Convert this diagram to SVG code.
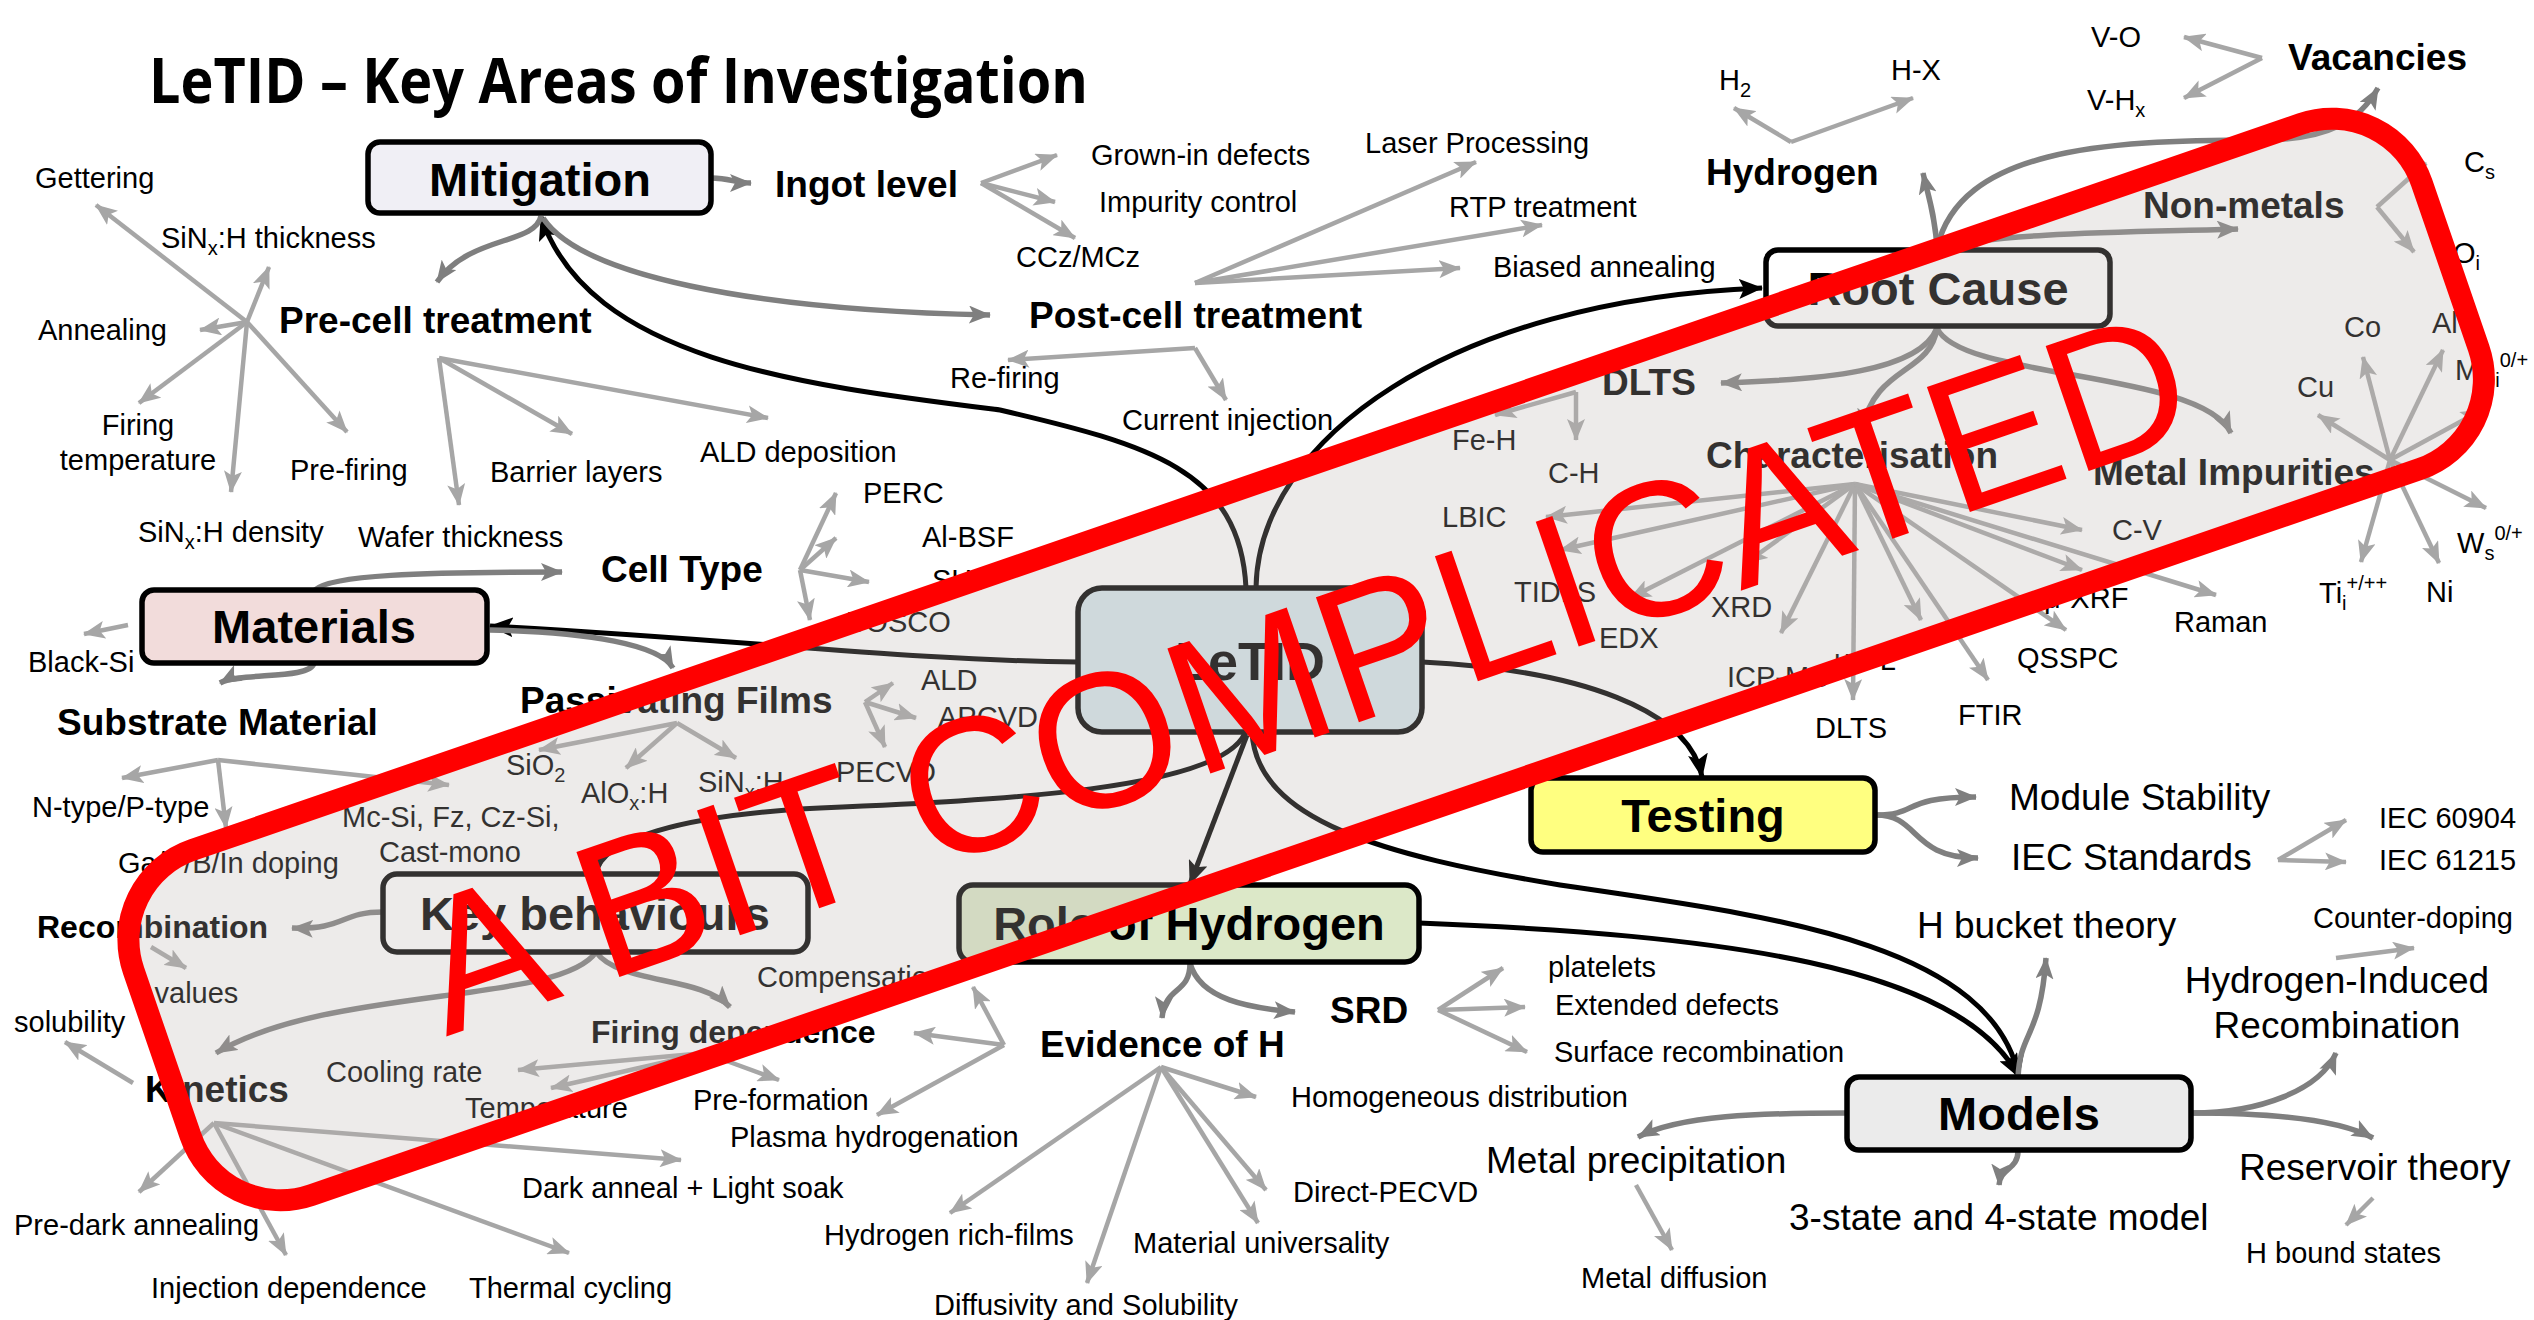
<svg xmlns="http://www.w3.org/2000/svg" width="2534" height="1320" viewBox="0 0 2534 1320">
<defs>
<marker id="mL" markerUnits="userSpaceOnUse" viewBox="0 0 22 18" markerWidth="22" markerHeight="18" refX="21" refY="9" orient="auto"><path d="M0,0 L22,9 L0,18 L5,9 z" fill="#a6a6a6"/></marker>
<marker id="mD" markerUnits="userSpaceOnUse" viewBox="0 0 22 18" markerWidth="22" markerHeight="18" refX="21" refY="9" orient="auto"><path d="M0,0 L22,9 L0,18 L5,9 z" fill="#7f7f7f"/></marker>
<marker id="mB" markerUnits="userSpaceOnUse" viewBox="0 0 24 20" markerWidth="24" markerHeight="20" refX="23" refY="10" orient="auto"><path d="M0,0 L24,10 L0,20 L5,10 z" fill="#000"/></marker>
<style>
.lf{stroke:#a6a6a6;stroke-width:4.5;fill:none;marker-end:url(#mL)}
.br{stroke:#7f7f7f;stroke-width:5.5;fill:none;marker-end:url(#mD)}
.bk{stroke:#000;stroke-width:5;fill:none;marker-end:url(#mB)}
text{font-family:"Liberation Sans",Arial,sans-serif;font-size:29px;fill:#000}
.h{font-weight:bold;font-size:37px}
.hs{font-size:32px}
.n{font-weight:bold;font-size:47px;text-anchor:middle}
.L{font-size:37px}
.c{text-anchor:middle}
.box{stroke:#000;stroke-width:5.5}
.s{font-size:20px}
</style>
</defs>
<rect width="2534" height="1320" fill="#fff"/>

<text x="149" y="103" style="font-family:'Open Sans','Noto Sans',sans-serif;font-weight:700;font-size:62px" textLength="939" lengthAdjust="spacingAndGlyphs">LeTID – Key Areas of Investigation</text>

<!-- connectors -->
<g id="connectors">
 <g class="bk">
  <path d="M1246,588 C1240,470 1150,445 1000,410 C800,385 590,360 541,217"/>
  <path d="M1256,588 C1258,440 1450,300 1762,288"/>
  <path d="M1078,662 C900,660 750,640 490,626"/>
  <path d="M1245,733 C1220,790 1000,800 820,808 C680,815 600,840 596,874"/>
  <path d="M1247,735 L1190,884"/>
  <path d="M1422,662 C1580,670 1690,710 1702,777"/>
  <path d="M1252,733 C1258,820 1380,855 1560,885 C1760,915 1990,940 2019,1077"/>
  <path d="M1419,923 C1720,935 1960,965 2019,1077"/>
 </g>
 <g class="br">
  <path d="M712,178 C730,178 735,183 751,183"/>
  <path d="M541,216 C535,245 470,235 437,282"/>
  <path d="M543,218 C580,275 750,310 990,315"/>
  <path d="M1937,248 C1935,215 1928,195 1923,173"/>
  <path d="M1937,248 C1960,150 2100,140 2260,140 C2330,140 2360,120 2378,88"/>
  <path d="M1940,248 C2000,232 2150,232 2238,229"/>
  <path d="M1937,328 C1920,372 1820,380 1721,383"/>
  <path d="M1937,328 C1930,375 1875,365 1862,430"/>
  <path d="M1937,328 C1960,380 2200,370 2231,433"/>
  <path d="M315,590 C330,575 420,572 562,572"/>
  <path d="M490,630 C590,632 660,645 673,668"/>
  <path d="M314,663 C310,680 240,672 220,683"/>
  <path d="M383,912 C340,912 345,930 292,928"/>
  <path d="M596,952 C560,1005 330,985 216,1053"/>
  <path d="M596,952 C620,985 700,975 730,1007"/>
  <path d="M1190,963 C1190,995 1165,985 1162,1018"/>
  <path d="M1190,963 C1200,1000 1250,1008 1295,1012"/>
  <path d="M1846,1113 C1760,1113 1680,1115 1638,1137"/>
  <path d="M2018,1151 C2018,1170 2000,1168 1999,1185"/>
  <path d="M2018,1078 C2020,1030 2040,1040 2046,958"/>
  <path d="M2192,1113 C2260,1113 2320,1090 2336,1053"/>
  <path d="M2192,1113 C2270,1113 2340,1120 2373,1138"/>
  <path d="M1876,815 C1920,815 1900,797 1976,797"/>
  <path d="M1876,815 C1920,815 1910,858 1978,858"/>
 </g>
 <g class="lf">
  <!-- pre-cell treatment, left star -->
  <path d="M247,322 L96,205"/><path d="M247,322 L269,267"/><path d="M247,322 L200,330"/>
  <path d="M247,322 L139,403"/><path d="M247,322 L231,492"/><path d="M247,322 L347,432"/>
  <!-- pre-cell treatment, right star -->
  <path d="M439,358 L459,505"/><path d="M439,358 L572,434"/><path d="M439,358 L768,418"/>
  <!-- ingot level -->
  <path d="M981,183 L1057,155"/><path d="M981,183 L1055,202"/><path d="M981,183 L1075,238"/>
  <!-- post-cell treatment -->
  <path d="M1195,283 L1476,162"/><path d="M1195,283 L1542,225"/><path d="M1195,283 L1460,268"/>
  <path d="M1195,348 L1008,360"/><path d="M1195,348 L1226,400"/>
  <!-- hydrogen, vacancies, non-metals -->
  <path d="M1791,142 L1734,108"/><path d="M1791,142 L1913,98"/>
  <path d="M2262,58 L2184,37"/><path d="M2262,58 L2184,98"/>
  <path d="M2377,207 L2426,163"/><path d="M2377,207 L2414,252"/>
  <!-- metal impurities -->
  <path d="M2390,460 L2363,357"/><path d="M2390,460 L2318,415"/><path d="M2390,460 L2443,350"/>
  <path d="M2390,460 L2482,410"/><path d="M2390,460 L2361,562"/><path d="M2390,460 L2439,563"/>
  <path d="M2390,460 L2486,508"/>
  <!-- DLTS -->
  <path d="M1576,392 L1576,440"/><path d="M1576,392 L1495,415"/>
  <!-- characterisation -->
  <path d="M1855,484 L1546,517"/><path d="M1855,484 L1560,550"/><path d="M1855,484 L1630,598"/>
  <path d="M1855,484 L1746,563"/><path d="M1855,484 L1781,633"/><path d="M1855,484 L1853,700"/>
  <path d="M1855,484 L1921,620"/><path d="M1855,484 L1988,680"/><path d="M1855,484 L2066,630"/>
  <path d="M1855,484 L2082,570"/><path d="M1855,484 L2216,595"/><path d="M1855,484 L2082,530"/>
  <!-- IEC standards -->
  <path d="M2278,860 L2346,820"/><path d="M2278,860 L2346,862"/>
  <!-- materials -->
  <path d="M128,625 L84,634"/>
  <path d="M218,760 L122,778"/><path d="M218,760 L226,828"/><path d="M218,760 L449,785"/>
  <path d="M800,570 L836,493"/><path d="M800,570 L836,538"/><path d="M800,570 L869,582"/><path d="M800,570 L810,620"/>
  <path d="M677,723 L539,750"/><path d="M677,723 L626,768"/><path d="M677,723 L736,758"/>
  <path d="M865,702 L893,683"/><path d="M865,702 L916,718"/><path d="M865,702 L885,747"/>
  <!-- key behaviours -->
  <path d="M151,947 L186,968"/>
  <path d="M133,1083 L65,1042"/>
  <path d="M214,1123 L139,1192"/><path d="M214,1123 L286,1255"/><path d="M214,1123 L569,1253"/><path d="M214,1123 L681,1160"/>
  <path d="M705,1053 L518,1070"/><path d="M705,1053 L551,1088"/><path d="M705,1053 L779,1080"/>
  <path d="M1004,1045 L973,987"/><path d="M1004,1045 L914,1033"/><path d="M1004,1045 L877,1115"/>
  <!-- role of hydrogen -->
  <path d="M1161,1067 L1256,1097"/><path d="M1161,1067 L950,1213"/><path d="M1161,1067 L1087,1283"/>
  <path d="M1161,1067 L1258,1223"/><path d="M1161,1067 L1266,1190"/>
  <path d="M1438,1010 L1503,968"/><path d="M1438,1010 L1525,1007"/><path d="M1438,1010 L1527,1052"/>
  <!-- models -->
  <path d="M1636,1185 L1672,1250"/>
  <path d="M2336,958 L2414,948"/>
  <path d="M2373,1198 L2346,1225"/>
 </g>
</g>

<!-- nodes -->
<g id="node-mitigation">
 <rect class="box" x="368" y="142" width="343" height="71" rx="12" fill="#f0eff5"/>
 <text class="n" x="540" y="196">Mitigation</text>
</g>
<g id="node-root-cause">
 <rect class="box" x="1766" y="250" width="344" height="76" rx="12" fill="#fff"/>
 <text class="n" x="1938" y="305">Root Cause</text>
</g>
<g id="node-letid">
 <rect class="box" x="1078" y="588" width="344" height="144" rx="24" fill="#d6e6ec"/>
 <text class="n" x="1250" y="680" style="font-size:54px">LeTID</text>
</g>
<g id="node-materials">
 <rect class="box" x="142" y="590" width="345" height="73" rx="12" fill="#f2dcdb"/>
 <text class="n" x="314" y="643">Materials</text>
</g>
<g id="node-testing">
 <rect class="box" x="1531" y="778" width="344" height="74" rx="12" fill="#ffff80"/>
 <text class="n" x="1703" y="832">Testing</text>
</g>
<g id="node-key-behaviours">
 <rect class="box" x="383" y="874" width="425" height="78" rx="14" fill="#fff"/>
 <text class="n" x="595" y="930">Key behaviours</text>
</g>
<g id="node-role-of-hydrogen">
 <rect class="box" x="959" y="885" width="460" height="77" rx="14" fill="#dce8c8"/>
 <text class="n" x="1189" y="940">Role of Hydrogen</text>
</g>
<g id="node-models">
 <rect class="box" x="1847" y="1077" width="344" height="73" rx="12" fill="#ebebeb"/>
 <text class="n" x="2019" y="1130">Models</text>
</g>

<!-- mitigation topics -->
<g id="topics-mitigation">
 <text class="h" x="775" y="197">Ingot level</text>
 <text class="h" x="279" y="333">Pre-cell treatment</text>
 <text class="h" x="1029" y="328">Post-cell treatment</text>
 <text x="35" y="188">Gettering</text>
 <text x="161" y="248">SiN<tspan class="s" dy="7">x</tspan><tspan dy="-7">:H thickness</tspan></text>
 <text x="38" y="340">Annealing</text>
 <text class="c" x="138" y="435">Firing</text>
 <text class="c" x="138" y="470">temperature</text>
 <text x="138" y="542">SiN<tspan class="s" dy="7">x</tspan><tspan dy="-7">:H density</tspan></text>
 <text x="290" y="480">Pre-firing</text>
 <text x="358" y="547">Wafer thickness</text>
 <text x="490" y="482">Barrier layers</text>
 <text x="700" y="462">ALD deposition</text>
 <text x="1091" y="165">Grown-in defects</text>
 <text x="1099" y="212">Impurity control</text>
 <text x="1016" y="267">CCz/MCz</text>
 <text x="1365" y="153">Laser Processing</text>
 <text x="1449" y="217">RTP treatment</text>
 <text x="1493" y="277">Biased annealing</text>
 <text x="950" y="388">Re-firing</text>
 <text x="1122" y="430">Current injection</text>
</g>

<!-- root cause topics -->
<g id="topics-root-cause">
 <text class="h" x="1706" y="185">Hydrogen</text>
 <text class="h" x="2288" y="70">Vacancies</text>
 <text class="h" x="2143" y="218">Non-metals</text>
 <text class="h" x="1602" y="395">DLTS</text>
 <text class="h" x="1706" y="468">Characterisation</text>
 <text class="h" x="2093" y="485">Metal Impurities</text>
 <text x="1719" y="90">H<tspan class="s" dy="7">2</tspan></text>
 <text x="1891" y="80">H-X</text>
 <text x="2091" y="47">V-O</text>
 <text x="2087" y="110">V-H<tspan class="s" dy="7">x</tspan></text>
 <text x="2464" y="172">C<tspan class="s" dy="7">s</tspan></text>
 <text x="2453" y="263">O<tspan class="s" dy="7">i</tspan></text>
 <text x="2344" y="337">Co</text>
 <text x="2432" y="333">Al</text>
 <text x="2455" y="380">Mn<tspan class="s" dy="7">i</tspan><tspan class="s" dy="-20">0/+</tspan></text>
 <text x="2297" y="397">Cu</text>
 <text x="2319" y="603">Ti<tspan class="s" dy="7">i</tspan><tspan class="s" dy="-20">+/++</tspan></text>
 <text x="2426" y="602">Ni</text>
 <text x="2457" y="553">W<tspan class="s" dy="7">s</tspan><tspan class="s" dy="-20">0/+</tspan></text>
 <text x="1452" y="450">Fe-H</text>
 <text x="1548" y="483">C-H</text>
 <text x="1442" y="527">LBIC</text>
 <text x="1514" y="602">TIDLS</text>
 <text x="1599" y="648">EDX</text>
 <text x="1711" y="617">XRD</text>
 <text x="1727" y="687">ICP-MS</text>
 <text x="1815" y="738">DLTS</text>
 <text x="1834" y="670">μ-PL</text>
 <text x="1958" y="725">FTIR</text>
 <text x="2017" y="668">QSSPC</text>
 <text x="2044" y="608">μ-XRF</text>
 <text x="2174" y="632">Raman</text>
 <text x="2112" y="540">C-V</text>
</g>

<!-- testing topics -->
<g id="topics-testing">
 <text class="L" x="2009" y="810">Module Stability</text>
 <text class="L" x="2011" y="870">IEC Standards</text>
 <text x="2379" y="828">IEC 60904</text>
 <text x="2379" y="870">IEC 61215</text>
</g>

<!-- materials topics -->
<g id="topics-materials">
 <text class="h" x="601" y="582">Cell Type</text>
 <text class="h" x="57" y="735">Substrate Material</text>
 <text class="h" x="520" y="713">Passivating Films</text>
 <text x="28" y="672">Black-Si</text>
 <text x="863" y="503">PERC</text>
 <text x="922" y="547">Al-BSF</text>
 <text x="932" y="590">SHJ</text>
 <text x="846" y="632">BOSCO</text>
 <text x="32" y="817">N-type/P-type</text>
 <text x="118" y="873">Ga/P/B/In doping</text>
 <text x="342" y="827">Mc-Si, Fz, Cz-Si,</text>
 <text x="379" y="862">Cast-mono</text>
 <text x="506" y="775">SiO<tspan class="s" dy="7">2</tspan></text>
 <text x="581" y="803">AlO<tspan class="s" dy="7">x</tspan><tspan dy="-7">:H</tspan></text>
 <text x="698" y="792">SiN<tspan class="s" dy="7">x</tspan><tspan dy="-7">:H</tspan></text>
 <text x="921" y="690">ALD</text>
 <text x="938" y="727">APCVD</text>
 <text x="836" y="782">PECVD</text>
</g>

<!-- key behaviour topics -->
<g id="topics-key-behaviours">
 <text class="h hs" x="37" y="938">Recombination</text>
 <text class="h" x="145" y="1102">Kinetics</text>
 <text class="h hs" x="591" y="1043">Firing dependence</text>
 <text x="135" y="1003">τ values</text>
 <text x="14" y="1032">solubility</text>
 <text x="757" y="987">Compensation</text>
 <text x="326" y="1082">Cooling rate</text>
 <text x="465" y="1118">Temperature</text>
 <text x="693" y="1110">Pre-formation</text>
 <text x="730" y="1147">Plasma hydrogenation</text>
 <text x="522" y="1198">Dark anneal + Light soak</text>
 <text x="14" y="1235">Pre-dark annealing</text>
 <text x="151" y="1298">Injection dependence</text>
 <text x="469" y="1298">Thermal cycling</text>
</g>

<!-- role of hydrogen topics -->
<g id="topics-role-of-hydrogen">
 <text class="h" x="1040" y="1057">Evidence of H</text>
 <text class="h" x="1330" y="1023">SRD</text>
 <text x="1548" y="977">platelets</text>
 <text x="1555" y="1015">Extended defects</text>
 <text x="1554" y="1062">Surface recombination</text>
 <text x="1291" y="1107">Homogeneous distribution</text>
 <text x="1293" y="1202">Direct-PECVD</text>
 <text x="1133" y="1253">Material universality</text>
 <text x="824" y="1245">Hydrogen rich-films</text>
 <text x="934" y="1315">Diffusivity and Solubility</text>
</g>

<!-- models topics -->
<g id="topics-models">
 <text class="L" x="1917" y="938">H bucket theory</text>
 <text class="L c" x="2337" y="993">Hydrogen-Induced</text>
 <text class="L c" x="2337" y="1038">Recombination</text>
 <text class="L" x="1486" y="1173">Metal precipitation</text>
 <text class="L" x="1789" y="1230">3-state and 4-state model</text>
 <text class="L" x="2239" y="1180">Reservoir theory</text>
 <text x="1581" y="1288">Metal diffusion</text>
 <text x="2313" y="928">Counter-doping</text>
 <text x="2246" y="1263">H bound states</text>
</g>

<!-- red stamp laid over the map -->
<g id="stamp" transform="translate(1306 659) rotate(-19)">
 <rect x="-1210" y="-182" width="2420" height="365" rx="95" fill="#bdb4b2" fill-opacity="0.27" stroke="#ff0000" stroke-width="22"/>
 <text x="-936" y="77" style="font-size:192px;fill:#ff0000" textLength="1858" lengthAdjust="spacingAndGlyphs">A BIT COMPLICATED</text>
</g>
</svg>
